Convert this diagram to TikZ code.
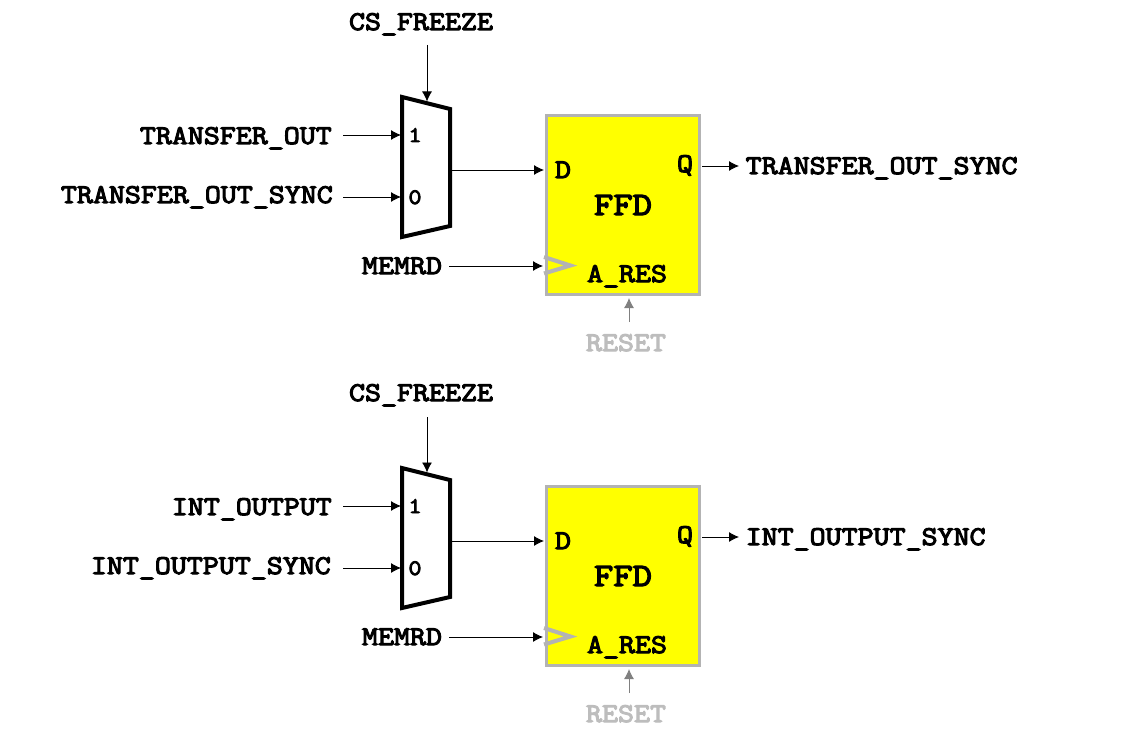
\documentclass[tikz,border=0pt]{standalone}
\usepackage{fontspec}
\usetikzlibrary{arrows.meta}
\newfontfamily\slabfont{Latin Modern Mono}[FakeBold=4,FakeStretch=1.15]
\definecolor{ffgray}{RGB}{179,179,179}
\definecolor{resetgray}{RGB}{128,128,128}
\definecolor{restext}{RGB}{189,189,189}
\definecolor{ffyellow}{RGB}{255,255,0}
\tikzset{
  x=1pt,y=-1pt,
  sig/.style={font=\fontsize{27}{32}\selectfont\slabfont,inner sep=0pt,text=black},
  muxnum/.style={font=\fontsize{22}{26}\selectfont\slabfont,inner sep=0pt},
  ffdlabel/.style={font=\fontsize{32.6}{38}\selectfont\slabfont,inner sep=0pt},
  conn/.style={draw=black,line width=0.9pt,-{Latex[length=10pt,width=10pt]}},
  resetconn/.style={draw=resetgray,line width=0.9pt,-{Latex[length=10pt,width=10pt]}},
  ffbox/.style={draw=ffgray,fill=ffyellow,line width=3.6pt,minimum width=153pt,minimum height=179pt,inner sep=0pt},
  muxshape/.style={draw=black,fill=white,line width=4pt,line join=miter},
  clk/.style={draw=ffgray,line width=4pt,line join=miter},
}
\newcommand{\ffblock}[8]{%
\begin{scope}[shift={(0,#2)}]
  \coordinate (m1#1) at (402,97);
  \coordinate (m2#1) at (450,109);
  \coordinate (m3#1) at (450,226);
  \coordinate (m4#1) at (402,237);
  \draw[muxshape] (m1#1) -- (m2#1) -- (m3#1) -- (m4#1) -- cycle;
  \node[ffbox] (ff#1) at (623,205) {};
  \draw[clk] (544,257) -- (570.5,265.5) -- (544,273.5);
  \node[sig,anchor=base] (sel#1) at (421,30) {CS\_FREEZE};
  \node[sig,anchor=base east] (a#1) at (#4,144) {#3};
  \node[sig,anchor=base east] (b#1) at (#6,203) {#5};
  \node[sig,anchor=base] (clkl#1) at (402,274) {MEMRD};
  \node[sig,anchor=base west] (q#1) at (745.5,174) {#7};
  \node[muxnum,anchor=base] (one#1) at (415,142) {1};
  \node[muxnum,anchor=base] (zero#1) at (415,204) {0};
  \node[sig,anchor=base] (dl#1) at (563,178) {D};
  \node[sig,anchor=base] (ql#1) at (685,172) {Q};
  \node[ffdlabel,anchor=base] (ffd#1) at (623,215) {FFD};
  \node[sig,anchor=base] (ar#1) at (627,282) {A\_RES};
  \node[sig,anchor=base,text=restext] (rs#1) at (626,351) {RESET};
  \coordinate (s0#1) at (427,#8);
  \coordinate (s1#1) at (427,101.5);
  \coordinate (a0#1) at (343,135);
  \coordinate (a1#1) at (401,135);
  \coordinate (b0#1) at (343,197);
  \coordinate (b1#1) at (401,197);
  \coordinate (o0#1) at (452,170);
  \coordinate (o1#1) at (544,170);
  \coordinate (c0#1) at (449,266);
  \coordinate (c1#1) at (543,266);
  \coordinate (q0#1) at (702,166);
  \coordinate (q1#1) at (739,166);
  \coordinate (r0#1) at (629,322);
  \coordinate (r1#1) at (629,298);
  \draw[conn] (s0#1) -- (s1#1);
  \draw[conn] (a0#1) -- (a1#1);
  \draw[conn] (b0#1) -- (b1#1);
  \draw[conn] (o0#1) -- (o1#1);
  \draw[conn] (c0#1) -- (c1#1);
  \draw[conn] (q0#1) -- (q1#1);
  \draw[resetconn] (r0#1) -- (r1#1);
\end{scope}}
\begin{document}
\begin{tikzpicture}
  \useasboundingbox (0,0) rectangle (1121,730);
  \ffblock{A}{0}{TRANSFER\_OUT}{332}{TRANSFER\_OUT\_SYNC}{333}{TRANSFER\_OUT\_SYNC}{45}
  \ffblock{B}{371}{INT\_OUTPUT}{332}{INT\_OUTPUT\_SYNC}{331}{INT\_OUTPUT\_SYNC}{46}
\end{tikzpicture}
\end{document}
